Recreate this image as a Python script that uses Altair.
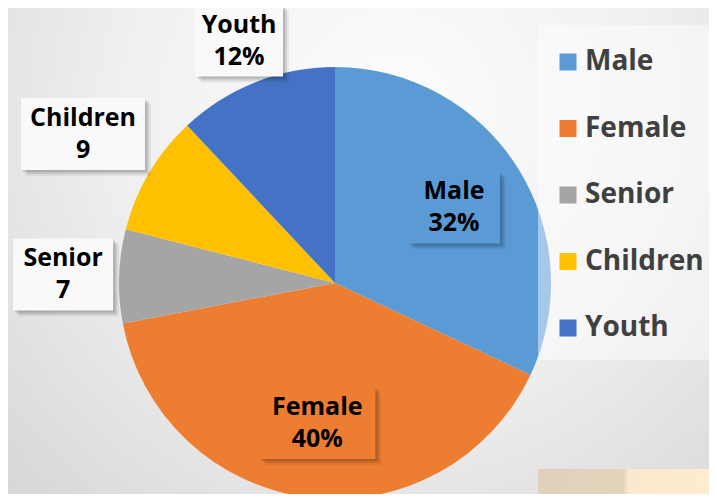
import altair as alt
import pandas as pd

categories = ["Male", "Female", "Senior", "Children", "Youth"]
values = [32, 40, 7, 9, 12]
value_labels = ["32%", "40%", "7", "9", "12%"]
colors = ["#5B9BD5", "#ED7D31", "#A5A5A5", "#FFC000", "#4472C4"]

df = pd.DataFrame({
    "category": categories,
    "value": values,
    "vlabel": value_labels,
    "slicecolor": colors,
    "idx": list(range(len(categories))),
})

W, H = 701, 486
CX, CY, R = 327, 275, 216
FONT = "Open Sans"

color_scale = alt.Scale(domain=categories, range=colors)
one = pd.DataFrame({"a": [0]})

bg = alt.Chart(one).mark_rect(
    color=alt.Gradient(
        gradient="radial",
        stops=[alt.GradientStop(color="#fdfdfd", offset=0),
               alt.GradientStop(color="#f0f0f0", offset=0.45),
               alt.GradientStop(color="#d2d2d2", offset=1)],
        x1=0.55, y1=0.3, r1=0, x2=0.55, y2=0.3, r2=0.85)
).encode(x=alt.value(0), x2=alt.value(W), y=alt.value(0), y2=alt.value(H))

beige = alt.Chart(one).mark_rect(
    color=alt.Gradient(
        gradient="linear",
        stops=[alt.GradientStop(color="#e1d1ba", offset=0),
               alt.GradientStop(color="#e5d4bc", offset=0.5),
               alt.GradientStop(color="#fbe8cd", offset=0.53),
               alt.GradientStop(color="#fdeccf", offset=1)],
        x1=0, y1=0, x2=1, y2=0)
).encode(x=alt.value(530), x2=alt.value(W), y=alt.value(461), y2=alt.value(H))

pie = alt.Chart(df).mark_arc(radius=R).encode(
    theta=alt.Theta("value:Q", stack=True),
    color=alt.Color(
        "category:N", scale=color_scale, sort=categories,
        legend=alt.Legend(
            orient="none", legendX=546, legendY=40, title=None,
            symbolType="square", symbolSize=289, symbolStrokeWidth=0,
            labelFont=FONT, labelFontSize=28, labelFontWeight="bold",
            labelColor="#404040", labelOffset=3, labelLimit=300,
            rowPadding=38.5, padding=0)),
    order=alt.Order("idx:Q"),
    x=alt.value(CX), y=alt.value(CY),
)

panel = alt.Chart(one).mark_rect(color="#ffffff", opacity=0.45).encode(
    x=alt.value(530), x2=alt.value(W), y=alt.value(17), y2=alt.value(352)
)

labeled = (
    alt.Chart(df)
    .transform_joinaggregate(total="sum(value)")
    .transform_window(cum="sum(value)", sort=[alt.SortField("idx")], frame=[None, 0])
    .transform_calculate(
        share="datum.value / datum.total",
        mid="(datum.cum - datum.value / 2) / datum.total * 2 * PI",
    )
    .transform_calculate(
        inside="datum.share > 0.2",
        hw="max(length(datum.category), length(datum.vlabel)) * 6 + (datum.share > 0.2 ? 22 : 14)",
    )
    .transform_calculate(
        lr=f"datum.inside ? 141 : {R} + 6 + min(datum.hw / max(abs(sin(datum.mid)), 0.01), 36 / max(abs(cos(datum.mid)), 0.01))",
    )
    .transform_calculate(
        lx=f"{CX} + datum.lr * sin(datum.mid)",
        ly=f"{CY} - datum.lr * cos(datum.mid)",
        txt="datum.category + '\\n' + datum.vlabel",
        boxfill="datum.inside ? datum.slicecolor : '#f9f9f9'",
    )
    .transform_calculate(
        bx1="datum.lx - datum.hw", bx2="datum.lx + datum.hw",
        by1="datum.ly - 36", by2="datum.ly + 36",
    )
)

def shadow(off, op):
    return labeled.transform_calculate(
        sx1=f"datum.bx1 + {off}", sx2=f"datum.bx2 + {off}",
        sy1=f"datum.by1 + {off}", sy2=f"datum.by2 + {off}",
    ).mark_rect(color="#000000", opacity=op).encode(
        x=alt.X("sx1:Q", scale=None, axis=None), x2="sx2:Q",
        y=alt.Y("sy1:Q", scale=None, axis=None), y2="sy2:Q",
    )

boxes = labeled.mark_rect().encode(
    x=alt.X("bx1:Q", scale=None, axis=None), x2="bx2:Q",
    y=alt.Y("by1:Q", scale=None, axis=None), y2="by2:Q",
    fill=alt.Fill("boxfill:N", scale=None),
)

texts = labeled.mark_text(
    font=FONT, fontSize=25, fontWeight="bold", color="#000000",
    lineBreak="\n", lineHeight=32, align="center", baseline="middle", dy=-16,
).encode(
    x=alt.X("lx:Q", scale=None, axis=None),
    y=alt.Y("ly:Q", scale=None, axis=None),
    text="txt:N",
)

chart = alt.layer(
    bg, beige, pie, panel, shadow(6, 0.06), shadow(4, 0.1), shadow(2, 0.12), boxes, texts
).properties(
    width=W, height=H, padding=0, autosize="none"
).configure_view(strokeWidth=0)

chart.save("out.html", embed_options={"renderer": "svg", "actions": False})
